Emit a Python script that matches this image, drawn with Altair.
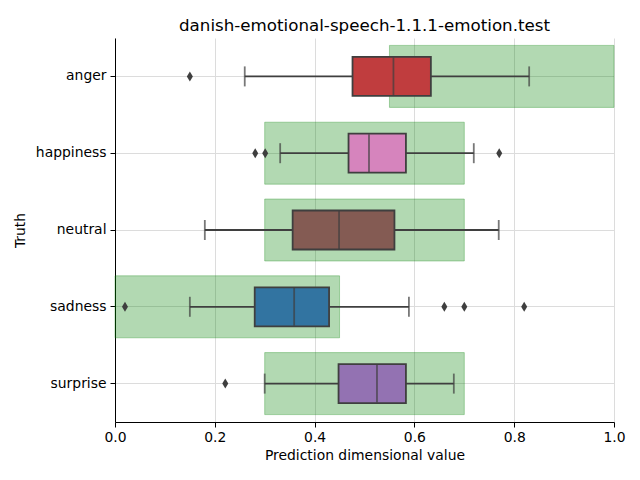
import altair as alt
import pandas as pd

categories = ["anger", "happiness", "neutral", "sadness", "surprise"]
whisker_low = [0.26, 0.331, 0.18, 0.15, 0.30]
q1 = [0.476, 0.468, 0.356, 0.280, 0.448]
median = [0.558, 0.509, 0.449, 0.359, 0.525]
q3 = [0.633, 0.583, 0.560, 0.429, 0.583]
whisker_high = [0.830, 0.719, 0.769, 0.589, 0.679]
box_colors = ["#c03d3e", "#d684bd", "#845b53", "#3274a1", "#9372b2"]
target_low = [0.55, 0.3, 0.3, 0.0, 0.3]
target_high = [1.0, 0.7, 0.7, 0.45, 0.7]
outlier_cat = ["anger", "happiness", "happiness", "happiness",
               "sadness", "sadness", "sadness", "sadness", "surprise"]
outlier_val = [0.15, 0.281, 0.301, 0.770, 0.02, 0.66, 0.70, 0.82, 0.221]
x_ticks = [0.0, 0.2, 0.4, 0.6, 0.8, 1.0]

stats = pd.DataFrame({
    "cat": categories, "wlo": whisker_low, "q1": q1, "med": median,
    "q3": q3, "whi": whisker_high, "tlo": target_low, "thi": target_high,
})
outliers = pd.DataFrame({"cat": outlier_cat, "v": outlier_val})

FONT = "DejaVu Sans"
GREY = "#3f3f3f"

xscale = alt.Scale(domain=[0, 1], nice=False, zero=False)
yscale = alt.Scale(domain=categories, paddingInner=0, paddingOuter=0)

xaxis = alt.Axis(values=x_ticks, format=".1f", title="Prediction dimensional value",
                 labelFlush=False, grid=True)
yaxis = alt.Axis(title="Truth", grid=True, bandPosition=0.5)

base = alt.Chart(stats)
Y = alt.Y("cat:N", scale=yscale, axis=yaxis, sort=categories)

target = base.mark_bar(size=62, fill="#008000", fillOpacity=0.3,
                       stroke="#008000", strokeOpacity=0.3, strokeWidth=1).encode(
    x=alt.X("tlo:Q", scale=xscale, axis=xaxis), x2="thi:Q", y=Y)

whisk = base.mark_rule(color=GREY, strokeWidth=1.8).encode(
    x=alt.X("wlo:Q", scale=xscale), x2="whi:Q", y=Y)

cap_lo = base.mark_tick(size=20, thickness=1.8, color=GREY).encode(
    x=alt.X("wlo:Q", scale=xscale), y=Y)
cap_hi = base.mark_tick(size=20, thickness=1.8, color=GREY).encode(
    x=alt.X("whi:Q", scale=xscale), y=Y)

box = base.mark_bar(size=39, stroke=GREY, strokeWidth=1.8).encode(
    x=alt.X("q1:Q", scale=xscale), x2="q3:Q", y=Y,
    color=alt.Color("cat:N", scale=alt.Scale(domain=categories, range=box_colors), legend=None))

med = base.mark_tick(size=38, thickness=1.8, color=GREY).encode(
    x=alt.X("med:Q", scale=xscale), y=Y)

pts = alt.Chart(outliers).mark_point(
    shape="M0,-1L0.6,0L0,1L-0.6,0Z", filled=True, color=GREY, opacity=1, size=100).encode(
    x=alt.X("v:Q", scale=xscale), y=alt.Y("cat:N", scale=yscale, sort=categories))

chart = alt.layer(target, whisk, cap_lo, cap_hi, box, med, pts).properties(
    width=499, height=384,
    title=alt.TitleParams("danish-emotional-speech-1.1.1-emotion.test",
                          font=FONT, fontSize=16.7, fontWeight="normal", color="black", offset=3),
    autosize="none",
    padding={"left": 107, "top": 30, "right": 18, "bottom": 50},
).configure_view(stroke=None).configure_axis(
    labelFont=FONT, titleFont=FONT, labelFontSize=13.9, titleFontSize=13.9,
    titleFontWeight="normal", labelColor="black", titleColor="black",
    domainColor="black", tickColor="black", domainWidth=1, tickWidth=1,
    tickSize=5, labelPadding=3, gridColor="#dcdcdc", gridWidth=1,
).configure_axisX(titlePadding=5).configure_axisY(titlePadding=8, labelPadding=4)

chart.save("out.html", embed_options={"renderer": "svg", "actions": False})
